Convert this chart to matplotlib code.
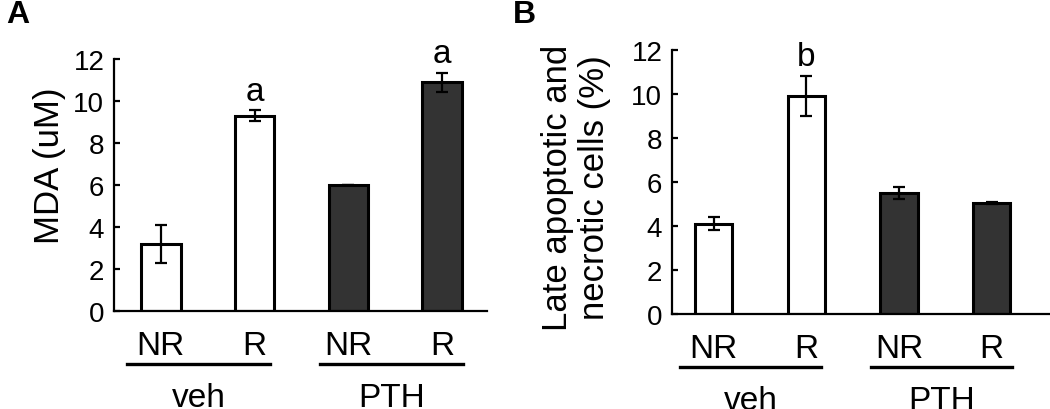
import matplotlib
matplotlib.use("Agg")
import matplotlib.pyplot as plt
import numpy as np

plt.rcParams['font.family'] = ['Liberation Sans', 'DejaVu Sans']

conds = ["NR", "R", "NR", "R"]
groups = ["veh", "PTH"]
bar_colors = ["white", "white", "#333333", "#333333"]

mda = [3.2, 9.3, 6.0, 10.9]
mda_err = [0.9, 0.25, 0.0, 0.45]
mda_sig = ["", "a", "", "a"]

dead = [4.1, 9.9, 5.5, 5.05]
dead_err = [0.3, 0.9, 0.28, 0.05]
dead_sig = ["", "b", "", ""]

yticks = [0, 2, 4, 6, 8, 10, 12]

W, H = 1050, 410
fig = plt.figure(figsize=(W / 100, H / 100), dpi=100)
axA = fig.add_axes([114 / W, 1 - 312 / H, (487 - 114) / W, (312 - 60) / H])
axB = fig.add_axes([672 / W, 1 - 315 / H, (1050 - 672) / W, (315 - 51) / H])


def draw_panel(ax, vals, errs, sig, width, xlim):
    x = np.arange(len(vals))
    ax.bar(x, vals, width=width, color=bar_colors, edgecolor="black", linewidth=2.2, zorder=2)
    ax.errorbar(x, vals, yerr=errs, fmt="none", ecolor="black", elinewidth=1.6,
                capsize=4, capthick=1.6, zorder=3)
    for xi, v, e, s in zip(x, vals, errs, sig):
        if s:
            ax.text(xi, v + e + 0.9, s, ha="center", va="center", fontsize=24, clip_on=False)
    ax.set_xlim(*xlim)
    ax.set_ylim(0, 12)
    ax.set_yticks(yticks)
    ax.set_xticks([])
    for side in ["top", "right"]:
        ax.spines[side].set_visible(False)
    for side in ["left", "bottom"]:
        ax.spines[side].set_linewidth(1.6)
    ax.tick_params(axis="y", direction="in", length=4, width=1.6, pad=7, labelsize=20)

    # category labels, group lines and group names below the axis
    h_px = ax.get_position().height * H
    tr = ax.get_xaxis_transform()
    for xi, c in zip(x, conds):
        ax.text(xi, -43 / h_px, c, ha="center", va="baseline", fontsize=24,
                transform=tr, clip_on=False)
    spans = [(-0.36, 1.16), (1.7, 3.22)]
    for (a, b), g in zip(spans, groups):
        ax.plot([a, b], [-53 / h_px] * 2, color="black", lw=2.4, transform=tr, clip_on=False)
        ax.text((a + b) / 2, -95 / h_px, g, ha="center", va="baseline", fontsize=24,
                transform=tr, clip_on=False)


draw_panel(axA, mda, mda_err, mda_sig, 0.42, (-0.5, 3.48))
draw_panel(axB, dead, dead_err, dead_sig, 0.40, (-0.45, 3.63))

fig.text(50 / W, 1 - 166 / H, "MDA (uM)", rotation=90, ha="center", va="center", fontsize=25)
fig.text(576 / W, 1 - 188 / H, "Late apoptotic and\nnecrotic cells (%)", rotation=90,
         ha="center", va="center", fontsize=25, linespacing=1.15)

fig.text(6 / W, 1 - 23 / H, "A", fontsize=23, fontweight="bold", ha="left", va="baseline")
fig.text(513 / W, 1 - 23 / H, "B", fontsize=23, fontweight="bold", ha="left", va="baseline")

fig.savefig("out.png", dpi=100)
